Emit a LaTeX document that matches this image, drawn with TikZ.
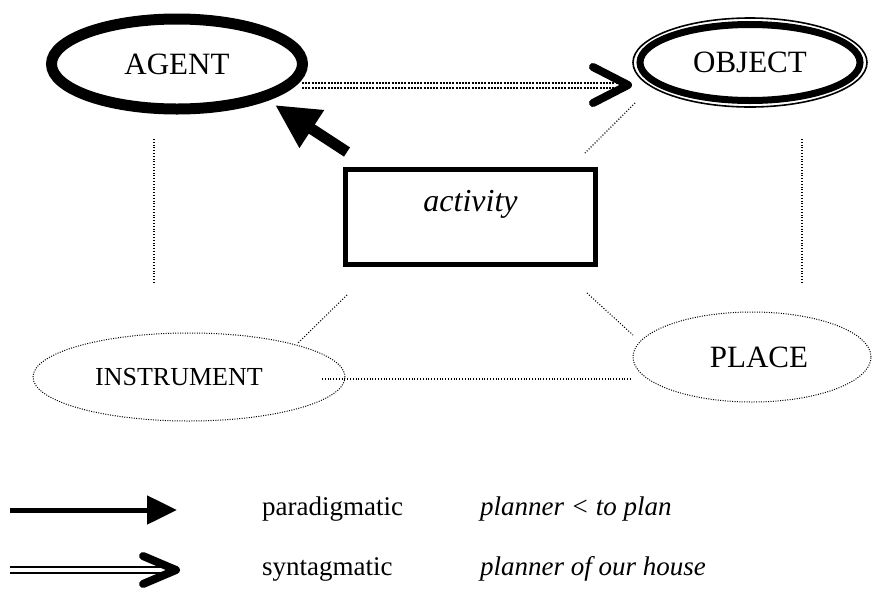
\documentclass[tikz,border=0pt]{standalone}
\usepackage{fontspec}
\setmainfont{Liberation Serif}
\usetikzlibrary{shapes.geometric,arrows.meta}
\begin{document}
\begin{tikzpicture}[x=1pt,y=-1pt,
  role/.style={ellipse, draw, inner sep=0pt, font=\fontsize{31}{36}\selectfont},
  weakrole/.style={role, line width=1pt, dash pattern=on 1pt off 1.4pt},
  link/.style={line width=1.1pt, dash pattern=on 1pt off 1.8pt},
  dotrow/.style={line width=2.2pt, dash pattern=on 2pt off 1.2pt},
  chevron/.style={line width=8pt, line cap=round, line join=round},
  legendtext/.style={inner sep=0pt, anchor=base west, font=\fontsize{27}{32}\selectfont},
  example/.style={legendtext, font=\fontsize{27}{32}\selectfont\itshape}
]
\useasboundingbox (0,0) rectangle (879,590);

% the four roles around the activity
\node[role, line width=11pt, minimum width=251pt, minimum height=90pt] (agent) at (177,64) {AGENT};
\node[role, line width=7pt, minimum width=220pt, minimum height=76pt] (object) at (750,62.5) {OBJECT};
\draw[line width=1.6pt] (object.center) ellipse [x radius=117pt, y radius=44.5pt];
\node[weakrole, minimum width=312pt, minimum height=88pt, font=\fontsize{26}{30}\selectfont] (instr) at (189,377) {INSTRUMENT\hspace*{20pt}};
\node[weakrole, minimum width=238pt, minimum height=90pt] (place) at (752,357) {\hspace*{14pt}PLACE};

% the activity itself
\node[draw, line width=5pt, minimum width=250pt, minimum height=95pt, inner sep=0pt,
      text height=20pt, text depth=32pt, font=\fontsize{32}{36}\selectfont\itshape] (activity) at (470.5,217) {activity};

% end points of the dotted links
\coordinate (a1) at (154,139);  \coordinate (a2) at (154,284);
\coordinate (o1) at (802,139);  \coordinate (o2) at (802,282);
\coordinate (d1) at (635,103);  \coordinate (d2) at (585,153);
\coordinate (d3) at (347,295);  \coordinate (d4) at (298,343);
\coordinate (d5) at (587,293);  \coordinate (d6) at (633,335);
\coordinate (h1) at (322,379);  \coordinate (h2) at (632,379);

\draw[link] (a1) -- (a2);
\draw[link] (o1) -- (o2);
\draw[link] (d1) -- (d2);
\draw[link] (d3) -- (d4);
\draw[link] (d5) -- (d6);
\draw[link] (h1) -- (h2);

% syntagmatic link AGENT => OBJECT
\coordinate (s0) at (302,85.3);
\coordinate (s2) at (622,85.3);
\coordinate (s1) at (628,85);
\draw[dotrow] ([shift={(0,-2.3)}]s0) -- ([shift={(0,-2.3)}]s2);
\draw[dotrow] ([shift={(0,2.3)}]s0) -- ([shift={(0,2.3)}]s2);
\draw[chevron] ([shift={(-35,-18)}]s1) -- (s1) -- ([shift={(-35,18)}]s1);

% paradigmatic link activity -> AGENT
\coordinate (p0) at (347,152);
\coordinate (p1) at (275,105);
\draw[line width=11pt, -{Triangle[length=44pt,width=42pt]}] (p0) -- (p1);

% legend
\coordinate (l1a) at (10,510);  \coordinate (l1b) at (177,510);
\draw[line width=5pt, -{Triangle[length=30pt,width=28pt]}] (l1a) -- (l1b);

\coordinate (l2a) at (10,570);  \coordinate (l2b) at (172,570);
\coordinate (l2t) at (176,570);
\draw[line width=1.7pt] ([shift={(0,-3)}]l2a) -- ([shift={(0,-3)}]l2b);
\draw[line width=1.7pt] ([shift={(0,3)}]l2a) -- ([shift={(0,3)}]l2b);
\draw[chevron] ([shift={(-33,-14)}]l2t) -- (l2t) -- ([shift={(-33,14)}]l2t);

\node[legendtext] (ptext) at (262,515) {paradigmatic};
\node[legendtext] (stext) at (262,575) {syntagmatic};
\node[example] (pex) at (480,515) {planner < to plan};
\node[example] (sex) at (480,575) {planner of our house};
\end{tikzpicture}
\end{document}
